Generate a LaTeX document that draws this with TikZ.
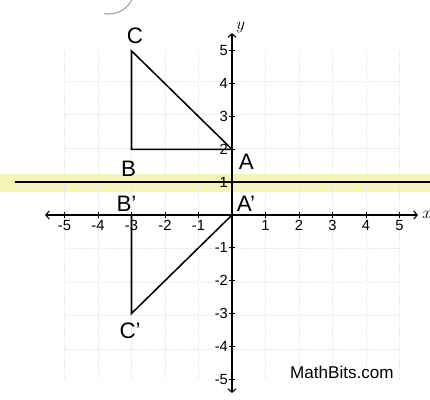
\documentclass[tikz,border=0pt]{standalone}
\usepackage{fontspec}
\setmainfont{Liberation Sans}
\usetikzlibrary{arrows.meta,positioning}
\definecolor{marker}{RGB}{246,244,182}

\begin{document}
\begin{tikzpicture}[
    x=1cm, y=0.98cm,
    gridline/.style={gray!22, densely dotted, line width=0.6pt},
    axis/.style={line width=0.9pt, {Straight Barb[length=3pt,width=7pt]}-{Straight Barb[length=3pt,width=7pt]}},
    tick/.style={line width=0.7pt},
    triangle/.style={line width=1.3pt, line join=miter},
    mirror/.style={line width=1.6pt},
    vertexlabel/.style={font=\fontsize{19}{20}\selectfont, inner sep=0pt},
    ticklabel/.style={font=\fontsize{12.5}{13}\selectfont, inner sep=1pt},
    caption/.style={font=\fontsize{14.5}{16}\selectfont, inner sep=0pt}
]
    \useasboundingbox (-6.925cm,-5.493cm) rectangle (5.91cm,6.418cm);

    % highlighted band round the mirror line
    \fill[marker] (-6.925cm,0.687cm) rectangle (5.91cm,1.224cm);

    % grid
    \draw[gridline] (-5,-5) grid (5,5);

    % axes
    \coordinate (xleft) at (-5.58,0);
    \coordinate (xright) at (5.55,0);
    \coordinate (ybottom) at (0,-5.42);
    \coordinate (ytop) at (0,5.54);
    \draw[axis] (xleft) -- (xright);
    \draw[axis] (ybottom) -- (ytop);
    \node (xname) at (5.82,0.02) {\Large $x$};
    \node (yname) at (0.26,5.72) {\Large $y$};

    \foreach \i in {-5,-4,-3,-2,-1,1,2,3,4,5} {
        \draw[tick] (\i,-0.1) -- (\i,0.1);
        \draw[tick] (-0.1,\i) -- (0.1,\i);
        \node[ticklabel, anchor=north] at (\i,-0.12) {\i};
        \node[ticklabel, anchor=east] at (-0.08,\i) {\i};
    }

    % mirror line y = 1
    \coordinate (mirrorleft) at (-6.48,1);
    \coordinate (mirrorright) at (5.91,1);
    \draw[mirror] (mirrorleft) -- (mirrorright);

    % triangle ABC
    \coordinate (A) at (0,2);
    \coordinate (B) at (-3,2);
    \coordinate (C) at (-3,5);
    \draw[triangle] (A) -- (B) -- (C) -- cycle;

    % image A'B'C'
    \coordinate (Ap) at (0,0);
    \coordinate (Bp) at (-3,0);
    \coordinate (Cp) at (-3,-3);
    \draw[triangle] (Ap) -- (Bp) -- (Cp) -- cycle;

    \node[vertexlabel] (labA) at (0.43,1.63) {A};
    \node[vertexlabel] (labB) at (-3.09,1.42) {B};
    \node[vertexlabel] (labC) at (-2.9,5.45) {C};
    \node[vertexlabel] (labAp) at (0.42,0.35) {A'};
    \node[vertexlabel] (labBp) at (-3.15,0.35) {B'};
    \node[vertexlabel] (labCp) at (-3.04,-3.53) {C'};

    \node[caption] (site) at (3.28,-4.78) {MathBits.com};

    % scrap of a ring at the top
    \draw[gray!70, line width=1pt] (-3.68cm,6.776cm) ++(-100:0.776cm) arc[start angle=-100, end angle=5, radius=0.776cm];
\end{tikzpicture}
\end{document}
